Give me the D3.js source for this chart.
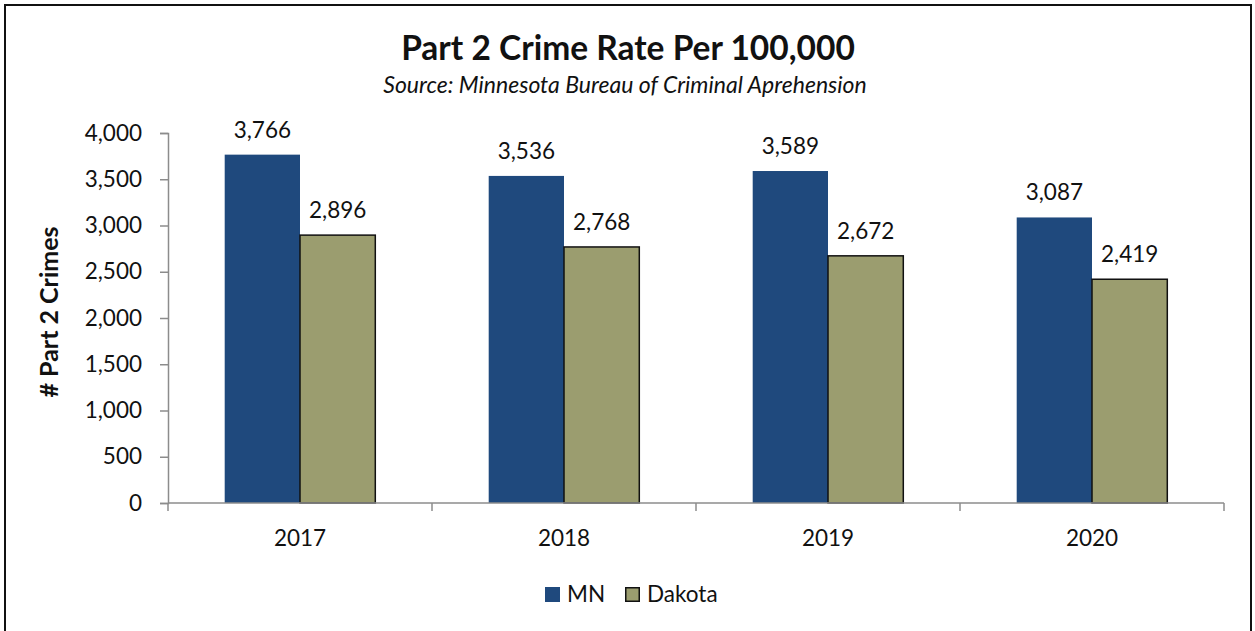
<!DOCTYPE html>
<html>
<head>
<meta charset="utf-8">
<script src="https://cdn.jsdelivr.net/npm/d3@7"></script>
<style>
  html, body { margin: 0; padding: 0; background: #fff; }
  svg { display: block; font-family: Lato, "Open Sans", sans-serif; }
</style>
</head>
<body>
<svg id="chart" width="1255" height="631"></svg>
<script>
// Part 2 crime rate per 100,000 residents, by year
const years = ["2017", "2018", "2019", "2020"];
const seriesNames = ["MN", "Dakota"];
const mnValues = [3766, 3536, 3589, 3087];
const dakotaValues = [2896, 2768, 2672, 2419];
const yTicks = [0, 500, 1000, 1500, 2000, 2500, 3000, 3500, 4000];

const colors = { MN: "#1f497d", Dakota: "#9b9d6f" };
const seriesValues = { MN: mnValues, Dakota: dakotaValues };

const bodySize = 22.5;

const svg = d3.select("#chart");
const W = 1255, H = 631;
const margin = { left: 168, right: 31, top: 133, bottom: 128 };
const plotW = W - margin.left - margin.right;
const plotH = H - margin.top - margin.bottom;

// outer frame
svg.append("rect")
  .attr("x", 5).attr("y", 5)
  .attr("width", 1246).attr("height", 640)
  .attr("fill", "#fff")
  .attr("stroke", "#111").attr("stroke-width", 2);

const g = svg.append("g").attr("transform", `translate(${margin.left},${margin.top})`);

const x0 = d3.scaleBand().domain(years).range([0, plotW]).paddingInner(0).paddingOuter(0);
const barW = 75.3;
const x1 = d3.scaleBand().domain(seriesNames)
  .range([(x0.bandwidth() - 2 * barW) / 2, (x0.bandwidth() + 2 * barW) / 2]).padding(0);
const y = d3.scaleLinear().domain([0, 4000]).range([plotH, 0]);

const fmt = d3.format(",");

// bars
const groups = g.selectAll("g.year").data(years).join("g")
  .attr("class", "year")
  .attr("transform", d => `translate(${x0(d)},0)`);

groups.selectAll("rect")
  .data((d, i) => seriesNames.map(s => ({ s, v: seriesValues[s][i] })))
  .join("rect")
  .attr("x", d => x1(d.s))
  .attr("y", d => y(d.v))
  .attr("width", x1.bandwidth())
  .attr("height", d => plotH - y(d.v))
  .attr("fill", d => colors[d.s])
  .attr("stroke", d => d.s === "Dakota" ? "#111" : "none")
  .attr("stroke-width", 1.5);

// value labels
groups.selectAll("text.val")
  .data((d, i) => seriesNames.map(s => ({ s, v: seriesValues[s][i] })))
  .join("text")
  .attr("class", "val")
  .attr("x", d => x1(d.s) + x1.bandwidth() / 2)
  .attr("y", d => y(d.v) - 17)
  .attr("text-anchor", "middle")
  .attr("font-size", bodySize)
  .attr("fill", "#111")
  .text(d => fmt(d.v));

// y axis
const yAxis = g.append("g")
  .call(d3.axisLeft(y).tickValues(yTicks).tickFormat(fmt).tickSize(8).tickPadding(18));
yAxis.select(".domain").attr("stroke", "#8c8c8c").attr("stroke-width", 1.5);
yAxis.selectAll(".tick line").attr("stroke", "#8c8c8c").attr("stroke-width", 1.5);
yAxis.selectAll(".tick text").attr("font-size", bodySize).attr("fill", "#111")
  .attr("font-family", "Lato, sans-serif");

// x axis: baseline with ticks at category boundaries
const xAxisG = g.append("g").attr("transform", `translate(0,${plotH})`);
xAxisG.append("line")
  .attr("x1", 0).attr("x2", plotW).attr("y1", 0).attr("y2", 0)
  .attr("stroke", "#8c8c8c").attr("stroke-width", 1.5);
const bounds = years.map(d => x0(d)).concat([plotW]);
xAxisG.selectAll("line.bt").data(bounds).join("line")
  .attr("class", "bt")
  .attr("x1", d => d).attr("x2", d => d)
  .attr("y1", 0).attr("y2", 8)
  .attr("stroke", "#8c8c8c").attr("stroke-width", 1.5);
xAxisG.selectAll("text").data(years).join("text")
  .attr("x", d => x0(d) + x0.bandwidth() / 2)
  .attr("y", 43)
  .attr("text-anchor", "middle")
  .attr("font-size", bodySize)
  .attr("fill", "#111")
  .text(d => d);

// titles
svg.append("text")
  .attr("x", 628).attr("y", 60)
  .attr("text-anchor", "middle")
  .attr("font-size", 33.5).attr("font-weight", "bold").attr("fill", "#111")
  .text("Part 2 Crime Rate Per 100,000");
svg.append("text")
  .attr("x", 625).attr("y", 93)
  .attr("text-anchor", "middle")
  .attr("font-size", 23).attr("font-style", "italic").attr("fill", "#111")
  .text("Source: Minnesota Bureau of Criminal Aprehension");

// y axis title
svg.append("text")
  .attr("transform", "translate(58,312) rotate(-90)")
  .attr("text-anchor", "middle")
  .attr("font-size", 25).attr("font-weight", "bold").attr("fill", "#111")
  .text("# Part 2 Crimes");

// legend
const legend = svg.append("g").attr("transform", "translate(545,587)");
const legendX = [0, 80];
seriesNames.forEach((s, i) => {
  const lg = legend.append("g").attr("transform", `translate(${legendX[i]},0)`);
  lg.append("rect")
    .attr("x", s === "Dakota" ? 0.75 : 0).attr("y", s === "Dakota" ? 0.75 : 0)
    .attr("width", s === "Dakota" ? 13.5 : 15).attr("height", s === "Dakota" ? 13.5 : 15)
    .attr("fill", colors[s])
    .attr("stroke", s === "Dakota" ? "#111" : "none")
    .attr("stroke-width", 1.5);
  lg.append("text")
    .attr("x", 22).attr("y", 15)
    .attr("font-size", bodySize).attr("fill", "#111")
    .text(s);
});
</script>
</body>
</html>
